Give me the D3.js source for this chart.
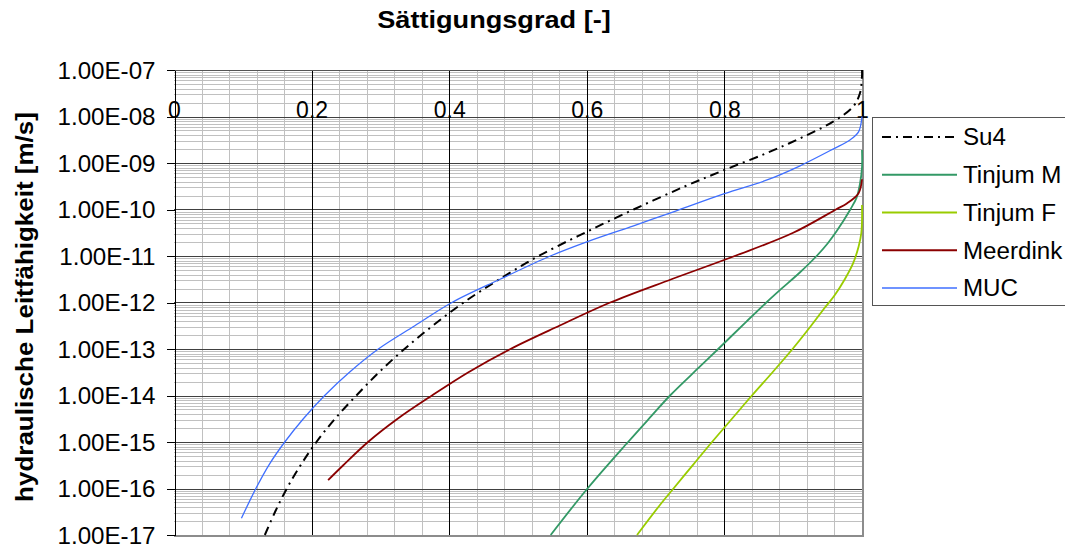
<!DOCTYPE html>
<html>
<head>
<meta charset="utf-8">
<script src="https://cdn.jsdelivr.net/npm/d3@7"></script>
<style>
  html, body { margin: 0; padding: 0; background: #fff; }
  svg { display: block; }
  text { font-family: "Liberation Sans", Arial, sans-serif; fill: #000; }
</style>
</head>
<body>
<svg id="chart" width="1065" height="550"></svg>
<script>
// Saturation degree (x) and log10 of hydraulic conductivity in m/s (y)
const su4Sat   = [0.132,0.147,0.164,0.184,0.207,0.234,0.265,0.298,0.335,0.376,0.421,0.473,0.530,0.597,0.668,0.743,0.800,0.861,0.910,0.958,0.987,0.997,1.0,1.0];
const su4LogK  = [-17.0,-16.5,-16.0,-15.5,-15.0,-14.5,-14.0,-13.5,-13.0,-12.5,-12.0,-11.5,-11.0,-10.5,-10.0,-9.5,-9.15,-8.79,-8.47,-8.11,-7.79,-7.5,-7.14,-7.0];

const tinjumMSat  = [0.5475,0.601,0.660,0.694,0.721,0.765,0.791,0.832,0.861,0.881,0.910,0.934,0.950,0.963,0.983,0.992,0.997,1.0,1.0];
const tinjumMLogK = [-17.0,-16.0,-15.0,-14.44,-14.0,-13.37,-13.0,-12.41,-12.0,-11.73,-11.35,-11.0,-10.73,-10.47,-10.0,-9.75,-9.45,-9.1,-8.72];

const tinjumFSat  = [0.673,0.706,0.726,0.755,0.782,0.811,0.840,0.870,0.899,0.926,0.945,0.960,0.975,0.987,0.995,0.999,1.0];
const tinjumFLogK = [-17.0,-16.36,-16.0,-15.48,-15.0,-14.5,-14.0,-13.5,-13.0,-12.5,-12.13,-11.85,-11.5,-11.16,-10.80,-10.51,-9.9];

const meerdinkSat  = [0.224,0.246,0.282,0.325,0.375,0.428,0.489,0.560,0.634,0.723,0.815,0.900,0.962,0.978,0.995,1.0];
const meerdinkLogK = [-15.82,-15.5,-15.0,-14.5,-14.0,-13.5,-13.0,-12.5,-12.0,-11.5,-11.0,-10.5,-10.0,-9.87,-9.65,-9.35];

const mucSat  = [0.098,0.119,0.139,0.161,0.188,0.219,0.255,0.297,0.350,0.404,0.474,0.547,0.601,0.668,0.726,0.800,0.861,0.910,0.958,0.983,0.995,1.0];
const mucLogK = [-16.64,-16.0,-15.47,-15.0,-14.5,-14.0,-13.5,-13.0,-12.5,-12.0,-11.5,-11.0,-10.69,-10.35,-10.05,-9.66,-9.37,-9.06,-8.70,-8.5,-8.33,-8.0];

const seriesNames = ["Su4", "Tinjum M", "Tinjum F", "Meerdink", "MUC"];
const xTickLabels = ["0", "0.2", "0.4", "0.6", "0.8", "1"];
const xTickValues = [0, 0.2, 0.4, 0.6, 0.8, 1];
const yTickLabels = ["1.00E-07","1.00E-08","1.00E-09","1.00E-10","1.00E-11","1.00E-12","1.00E-13","1.00E-14","1.00E-15","1.00E-16","1.00E-17"];
const yDecades = [-7,-8,-9,-10,-11,-12,-13,-14,-15,-16,-17];

const titleText = "Sättigungsgrad [-]";
const yTitleText = "hydraulische Leitfähigkeit [m/s]";

const styles = {
  "Su4":      { color: "#000000", width: 2,   dash: "9,5,2,5" },
  "Tinjum M": { color: "#339966", width: 1.8, dash: null },
  "Tinjum F": { color: "#99cc00", width: 1.8, dash: null },
  "Meerdink": { color: "#8b0000", width: 1.8, dash: null },
  "MUC":      { color: "#3f6fff", width: 1.3, dash: null }
};

const series = [
  { name: "Su4",      sat: su4Sat,      logK: su4LogK },
  { name: "Tinjum M", sat: tinjumMSat,  logK: tinjumMLogK },
  { name: "Tinjum F", sat: tinjumFSat,  logK: tinjumFLogK },
  { name: "Meerdink", sat: meerdinkSat, logK: meerdinkLogK },
  { name: "MUC",      sat: mucSat,      logK: mucLogK }
];

const plot = { left: 174, right: 862, top: 70, bottom: 535 };
const svg = d3.select("#chart");
svg.append("rect").attr("width", 1065).attr("height", 550).attr("fill", "#fff");

const x = d3.scaleLinear().domain([0, 1]).range([plot.left, plot.right]);
const y = d3.scaleLog().domain([1e-17, 1e-7]).range([plot.bottom, plot.top]);
const px = v => Math.round(v) + 0.5;

const grid = svg.append("g").attr("shape-rendering", "crispEdges");

// minor horizontal lines (2..9 within each decade)
const minorY = [];
for (let e = -17; e < -7; e++) for (let k = 2; k <= 9; k++) minorY.push(k * Math.pow(10, e));
grid.selectAll(".minh").data(minorY).enter().append("line")
  .attr("x1", plot.left).attr("x2", plot.right)
  .attr("y1", d => px(y(d))).attr("y2", d => px(y(d)))
  .attr("stroke", "#c0c0c0").attr("stroke-width", 1);

// minor vertical lines every 0.04
const minorX = d3.range(1, 25).map(i => i * 0.04).filter(v => Math.abs(v / 0.2 - Math.round(v / 0.2)) > 1e-6);
grid.selectAll(".minv").data(minorX).enter().append("line")
  .attr("y1", plot.top).attr("y2", plot.bottom)
  .attr("x1", d => px(x(d))).attr("x2", d => px(x(d)))
  .attr("stroke", "#c0c0c0").attr("stroke-width", 1);

// decade lines
grid.selectAll(".majh").data(yDecades.slice(1, -1)).enter().append("line")
  .attr("x1", plot.left).attr("x2", plot.right)
  .attr("y1", d => px(y(Math.pow(10, d)))).attr("y2", d => px(y(Math.pow(10, d))))
  .attr("stroke", "#404040").attr("stroke-width", 1);

// major vertical lines
grid.selectAll(".majv").data(xTickValues.slice(1, -1)).enter().append("line")
  .attr("y1", plot.top).attr("y2", plot.bottom)
  .attr("x1", d => px(x(d))).attr("x2", d => px(x(d)))
  .attr("stroke", "#000").attr("stroke-width", 1);

// plot frame
grid.append("line").attr("x1", plot.left).attr("x2", plot.right).attr("y1", px(plot.top)).attr("y2", px(plot.top))
  .attr("stroke", "#555").attr("stroke-width", 1);
grid.append("line").attr("x1", plot.right + 1).attr("x2", plot.right + 1).attr("y1", plot.top).attr("y2", plot.bottom + 1)
  .attr("stroke", "#8c8c8c").attr("stroke-width", 2);
grid.append("line").attr("x1", plot.left).attr("x2", plot.right + 2).attr("y1", plot.bottom + 1).attr("y2", plot.bottom + 1)
  .attr("stroke", "#8c8c8c").attr("stroke-width", 2);

// y axis with tick labels
const yAxis = d3.axisLeft(y)
  .tickValues(yDecades.map(e => Math.pow(10, e)))
  .tickFormat((d, i) => yTickLabels[i])
  .tickSizeInner(8).tickSizeOuter(0).tickPadding(0);
const yg = svg.append("g").attr("transform", `translate(${px(plot.left)},0)`).call(yAxis);
yg.select(".domain").attr("stroke", "#000").attr("shape-rendering", "crispEdges");
yg.selectAll(".tick line").attr("stroke", "#000").attr("shape-rendering", "crispEdges");
yg.selectAll(".tick text")
  .attr("x", 0)
  .attr("transform", "translate(-19,0) scale(1.05,1)")
  .attr("font-size", 23).attr("font-family", "Liberation Sans, Arial, sans-serif").attr("fill", "#000")
  .attr("dy", "0.36em");

// x axis crossing at 1e-8, labels sitting on it
const xAxis = d3.axisTop(x)
  .tickValues(xTickValues)
  .tickFormat((d, i) => xTickLabels[i])
  .tickSize(0).tickPadding(0);
const xg = svg.append("g").attr("transform", `translate(0,${px(y(1e-8))})`).call(xAxis);
xg.select(".domain").attr("stroke", "none");
xg.selectAll(".tick text")
  .attr("font-size", 23).attr("font-family", "Liberation Sans, Arial, sans-serif").attr("fill", "#000")
  .attr("dy", "0");

// series lines
const line = d3.line()
  .x(d => x(d[0]))
  .y(d => y(Math.pow(10, d[1])))
  .curve(d3.curveCatmullRom.alpha(0.5));
svg.append("g").selectAll("path").data(series).enter().append("path")
  .attr("d", s => line(s.sat.map((v, i) => [v, s.logK[i]])))
  .attr("fill", "none")
  .attr("stroke", s => styles[s.name].color)
  .attr("stroke-width", s => styles[s.name].width)
  .attr("stroke-dasharray", s => styles[s.name].dash)
  .attr("stroke-linejoin", "round");

// titles
svg.append("text").attr("transform", "translate(494,28) scale(1.18,1)").attr("text-anchor", "middle")
  .attr("font-size", 23).attr("font-weight", "bold").text(titleText);
svg.append("text").attr("transform", `translate(33,307) rotate(-90) scale(1.13,1)`)
  .attr("text-anchor", "middle").attr("font-size", 23).attr("font-weight", "bold").text(yTitleText);

// legend
const legend = svg.append("g");
legend.append("rect").attr("x", 872.5).attr("y", 117.5).attr("width", 200).attr("height", 188)
  .attr("fill", "#fff").attr("stroke", "#555").attr("stroke-width", 1);
const ly = d3.scalePoint().domain(seriesNames).range([137, 288]);
const items = legend.selectAll("g.item").data(seriesNames).enter().append("g")
  .attr("transform", d => `translate(0,${ly(d)})`);
items.append("line").attr("x1", 882).attr("x2", 957).attr("y1", 0).attr("y2", 0)
  .attr("stroke", d => styles[d].color).attr("stroke-width", d => styles[d].width)
  .attr("stroke-dasharray", d => styles[d].dash);
items.append("text").attr("transform", "translate(963,0) scale(1.05,1)").attr("dy", "0.36em").attr("font-size", 23).text(d => d);
</script>
</body>
</html>
